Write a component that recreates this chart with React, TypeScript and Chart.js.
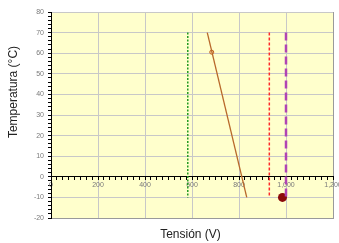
import React, { useEffect, useRef } from "react";
import { Chart, registerables } from "chart.js";

Chart.register(...registerables);

// ---- data ----
const xMin = 0;
const xMax = 1200;
const yMin = -20;
const yMax = 80;
const xMajorStep = 200;
const xMinorStep = 25;
const yMajorStep = 10;
const yMinorStep = 2;

const verticalTemps = [70, -10];
const greenVoltages = [582, 582];
const redVoltages = [929, 929];
const purpleVoltages = [1000, 1000];
const brownVoltages = [665, 833];
const brownTemps = [70, -10];
const markerVoltage = [684];
const markerTemp = [60.5];
const dotVoltage = [985];
const dotTemp = [-10];

const xTitle = "Tensión (V)";
const yTitle = "Temperatura (°C)";

const FONT = '"Liberation Sans", Arial, sans-serif';

function pts(xs: number[], ys: number[]) {
  return xs.map((x, i) => ({ x, y: ys[i] }));
}

const bgPlugin = {
  id: "bgPlugin",
  beforeDraw(chart: any) {
    const { ctx, chartArea } = chart;
    ctx.save();
    ctx.fillStyle = "#ffffcc";
    ctx.fillRect(chartArea.left, chartArea.top, chartArea.right - chartArea.left, chartArea.bottom - chartArea.top);
    ctx.restore();
  },
  afterDraw(chart: any) {
    const { ctx, chartArea } = chart;
    ctx.save();
    ctx.font = "12px " + FONT;
    ctx.fillStyle = "#222222";
    ctx.textAlign = "center";
    ctx.textBaseline = "middle";
    ctx.fillText(xTitle, (chartArea.left + chartArea.right) / 2 - 1.5, chartArea.bottom + 17);
    ctx.translate(chartArea.left - 37, chartArea.top + 80);
    ctx.rotate(-Math.PI / 2);
    ctx.fillText(yTitle, 0, 0);
    ctx.restore();
  },
};

export default function App() {
  const ref = useRef<HTMLCanvasElement | null>(null);
  useEffect(() => {
    document.body.style.margin = "0";
    if (!ref.current) return;
    const chart = new Chart(ref.current, {
      type: "scatter",
      data: {
        datasets: [
          {
            data: pts(greenVoltages, verticalTemps),
            showLine: true,
            borderColor: "#229a22",
            borderWidth: 1.5,
            borderDash: [2, 1.5],
            pointRadius: 0,
          },
          {
            data: pts(redVoltages, verticalTemps),
            showLine: true,
            borderColor: "#ff2a2a",
            borderWidth: 1.5,
            borderDash: [3, 2],
            pointRadius: 0,
          },
          {
            data: pts(purpleVoltages, verticalTemps),
            showLine: true,
            borderColor: "#b044b4",
            borderWidth: 2.5,
            borderDash: [8, 4],
            pointRadius: 0,
          },
          {
            data: pts(brownVoltages, brownTemps),
            showLine: true,
            borderColor: "#b8682a",
            borderWidth: 1.3,
            pointRadius: 0,
          },
          {
            data: pts(markerVoltage, markerTemp),
            showLine: false,
            pointRadius: 2,
            borderWidth: 1,
            borderColor: "#c0601a",
            backgroundColor: "#f8d8a0",
          },
          {
            data: pts(dotVoltage, dotTemp),
            showLine: false,
            pointRadius: 4.5,
            borderWidth: 0,
            backgroundColor: "#8b0a0a",
          },
        ],
      },
      options: {
        animation: false,
        responsive: true,
        maintainAspectRatio: false,
        layout: { padding: { left: 0, right: 6, top: 12, bottom: 0 } },
        plugins: { legend: { display: false }, tooltip: { enabled: false } },
        scales: {
          x: {
            type: "linear",
            position: "bottom",
            min: xMin,
            max: xMax,
            ticks: { display: false, stepSize: xMajorStep },
            grid: {
              color: (c: any) => (c.tick && c.tick.value === xMax ? "#9a9a9a" : "#c8c8c8"),
              lineWidth: 1,
              drawTicks: false,
            },
            border: { display: true, color: "#9a9a9a", width: 1 },
            afterFit: (s: any) => {
              s.height = 25;
              s.paddingLeft = 0;
              s.paddingRight = 0;
            },
          },
          x2: {
            type: "linear",
            axis: "x",
            position: { y: 0 },
            min: xMin,
            max: xMax,
            ticks: {
              stepSize: xMinorStep,
              maxTicksLimit: 1000,
              autoSkip: false,
              maxRotation: 0,
              minRotation: 0,
              padding: 1,
              color: "#7a7a7a",
              font: { size: 7, family: FONT },
              callback: (v: any) => (Number(v) % xMajorStep === 0 ? Number(v).toLocaleString("en-US") : ""),
            },
            grid: { drawOnChartArea: false, drawTicks: true, tickLength: 3, tickColor: "#000000", color: "#000000" },
            border: { display: true, color: "#000000", width: 1 },
            afterFit: (s: any) => {
              s.height = 0;
              s.paddingLeft = 0;
              s.paddingRight = 0;
            },
          },
          y: {
            type: "linear",
            position: "left",
            min: yMin,
            max: yMax,
            ticks: {
              stepSize: yMinorStep,
              maxTicksLimit: 1000,
              autoSkip: false,
              padding: 4,
              color: "#7a7a7a",
              font: { size: 7, family: FONT },
              callback: (v: any) => (Number(v) % yMajorStep === 0 ? String(v) : ""),
            },
            grid: {
              drawTicks: true,
              tickLength: 3,
              tickColor: "#000000",
              color: (c: any) => (c.tick && c.tick.value % yMajorStep === 0 ? "#c8c8c8" : "rgba(0,0,0,0)"),
            },
            border: { display: true, color: "#000000", width: 1 },
            afterFit: (s: any) => {
              s.width = 51;
              s.paddingTop = 0;
              s.paddingBottom = 0;
            },
          },
        },
      } as any,
      plugins: [bgPlugin],
    });
    return () => chart.destroy();
  }, []);
  return (
    <div style={{ width: 339, height: 243, position: "relative" }}>
      <canvas ref={ref} />
    </div>
  );
}
